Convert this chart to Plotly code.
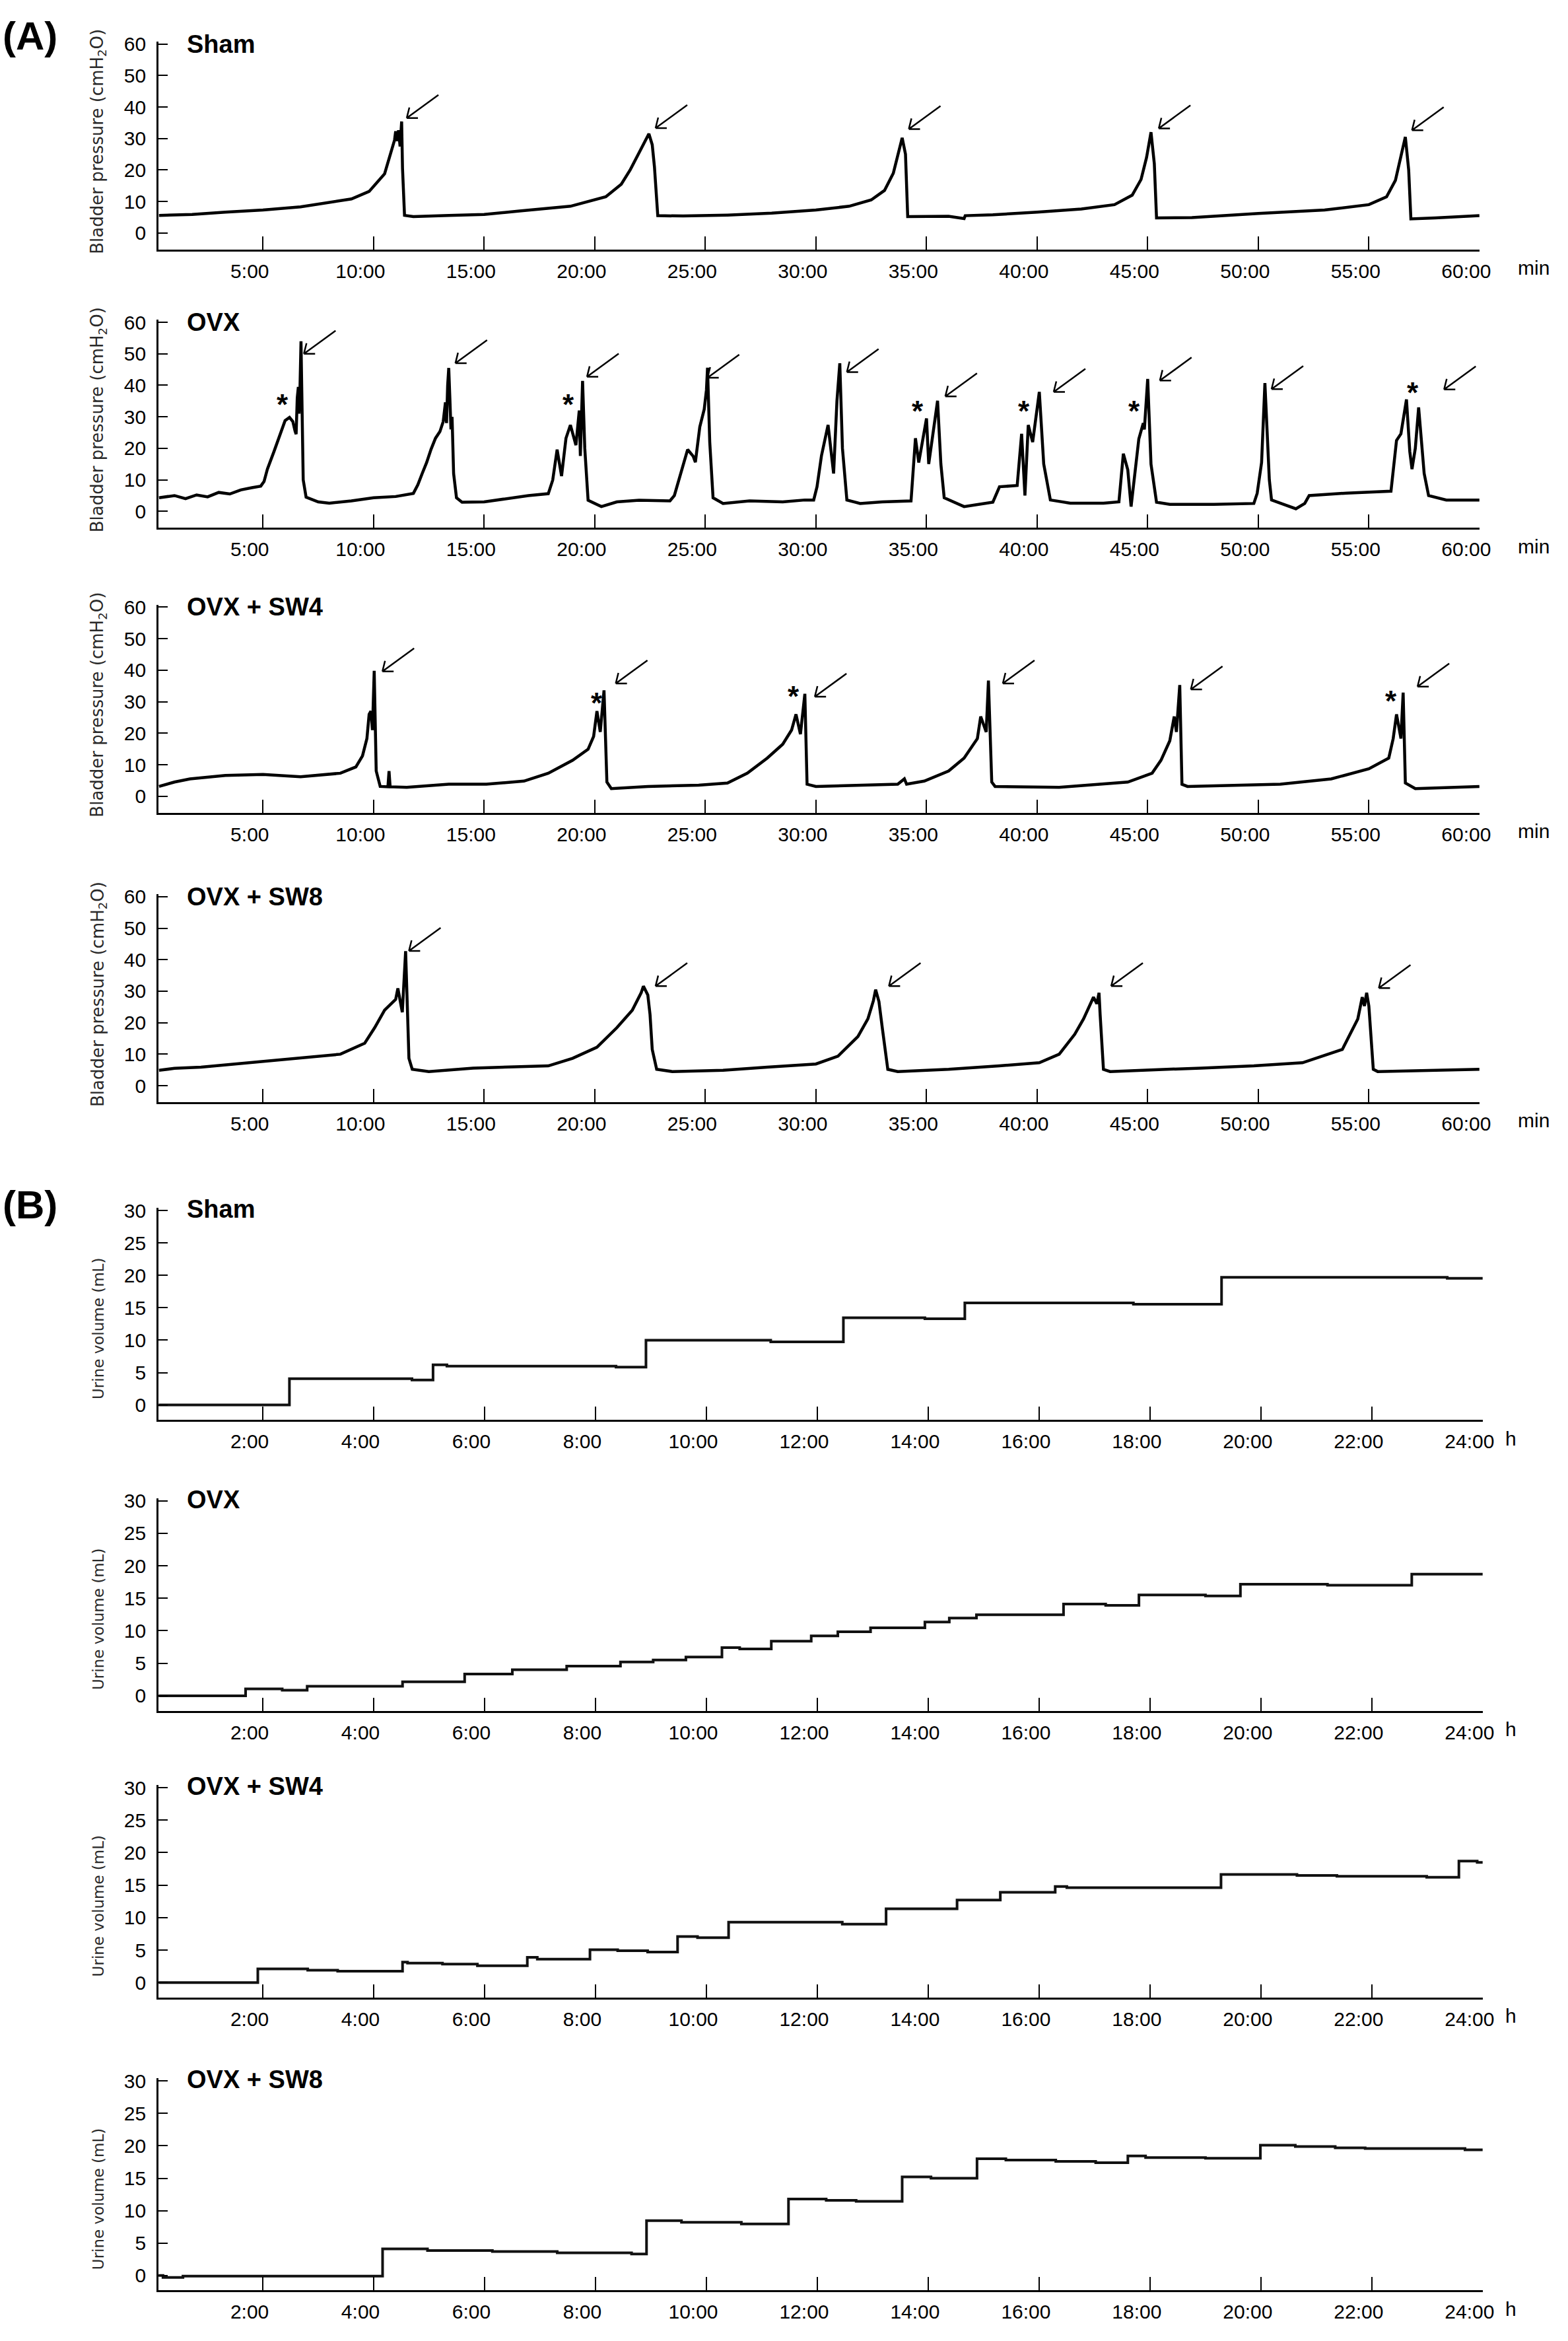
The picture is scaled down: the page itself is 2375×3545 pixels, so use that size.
import plotly.graph_objects as go

W, H = 2375, 3545

# ---------------- Panel A: bladder pressure traces (time in min, pressure in cmH2O) ----------------
sham_t = [0.3, 1.8, 3.3, 5.0, 6.7, 7.8, 9.0, 9.8, 10.15, 10.5, 10.7, 10.8, 10.95, 11.0, 11.07, 11.13, 11.2, 11.27, 11.31, 11.4,
          11.8, 13.4, 15.0, 16.6, 18.9, 20.5, 21.2, 21.6, 22.0, 22.25, 22.45, 22.6, 22.7, 22.85,
          24.0, 26.0, 28.0, 30.0, 31.5, 32.5, 33.1, 33.5, 33.75, 33.9, 34.05, 34.15,
          36.0, 36.7, 36.75, 38.0, 40.0, 42.0, 43.5, 44.3, 44.7, 44.95, 45.15, 45.3, 45.4,
          47.0, 50.0, 53.0, 55.0, 55.8, 56.2, 56.45, 56.65, 56.8, 56.9, 58.0, 60.0]
sham_p = [5.6, 5.9, 6.6, 7.3, 8.3, 9.4, 10.8, 13.2, 16.0, 18.8, 23.6, 25.7, 29.5, 32.3, 29.2, 32.6, 27.5, 35.4, 20.5, 5.6,
          5.2, 5.6, 5.9, 7.0, 8.5, 11.5, 15.5, 20.0, 25.5, 28.5, 31.5, 28.0, 21.0, 5.5,
          5.4, 5.7, 6.3, 7.3, 8.5, 10.5, 13.5, 19.0, 25.5, 30.2, 25.0, 5.2,
          5.3, 4.6, 5.5, 5.8, 6.6, 7.6, 9.0, 12.0, 17.0, 24.0, 32.0, 22.0, 4.8,
          4.9, 6.2, 7.3, 9.0, 11.5, 16.7, 25.0, 30.5, 20.0, 4.5, 4.8, 5.5]

ovx_t = [0.3, 1.0, 1.5, 2.0, 2.5, 3.0, 3.5, 4.0, 4.5, 4.9, 5.05, 5.2, 5.5, 5.8, 6.0, 6.2, 6.35, 6.45, 6.5, 6.55, 6.6,
         6.63, 6.67, 6.72, 6.77, 6.82, 6.95, 7.5, 8.0, 9.0, 10.0, 11.0, 11.8, 12.0, 12.2, 12.4, 12.6, 12.8, 13.0,
         13.15, 13.25, 13.3, 13.35, 13.4, 13.45, 13.5, 13.55, 13.62, 13.75, 14.0, 15.0, 16.0, 17.0, 17.9, 18.1,
         18.3, 18.5, 18.7, 18.9, 19.15, 19.3, 19.35, 19.45, 19.55, 19.7, 20.3, 21.0, 22.0, 23.4, 23.6, 24.2,
         24.45, 24.55, 24.75, 24.95, 25.05, 25.1, 25.2, 25.35, 25.8, 27.0, 28.5, 29.5, 29.9, 30.05, 30.25, 30.55,
         30.8, 30.95, 31.08, 31.2, 31.4, 32.0, 33.0, 34.3, 34.5, 34.65, 35.0, 35.1, 35.5, 35.65, 35.8, 36.7,
         38.0, 38.3, 39.1, 39.3, 39.45, 39.6, 39.8, 40.1, 40.3, 40.6, 41.5, 43.0, 43.7, 43.9, 44.1, 44.25,
         44.6, 44.8, 44.85, 45.0, 45.15, 45.4, 46.0, 48.0, 49.8, 49.95, 50.15, 50.3, 50.5, 50.6, 51.7, 52.1,
         52.3, 54.0, 56.0, 56.25, 56.45, 56.7, 56.85, 56.95, 57.1, 57.25, 57.5, 57.7, 58.5, 60.0]
ovx_p = [4.3, 5.0, 4.0, 5.2, 4.6, 6.0, 5.5, 6.8, 7.5, 8.0, 9.5, 13.4, 19.0, 24.6, 28.8, 29.8, 28.5, 25.5, 24.5, 36.0, 39.5,
         31.0, 38.0, 54.0, 30.0, 10.0, 4.5, 3.0, 2.6, 3.3, 4.3, 4.7, 5.7, 8.4, 12.0, 15.5, 19.7, 23.2, 25.3,
         28.5, 34.6, 28.0, 40.0, 45.5, 36.0, 26.0, 30.0, 12.0, 4.3, 2.9, 3.0, 4.0, 5.0, 5.6, 9.9,
         19.6, 11.2, 23.2, 27.4, 21.0, 32.0, 17.6, 41.4, 20.0, 3.5, 1.5, 3.0, 3.5, 3.3, 5.0, 19.6,
         17.5, 15.6, 26.8, 32.4, 38.5, 45.6, 22.0, 4.3, 2.5, 3.3, 3.0, 3.6, 3.6, 7.8, 17.6, 27.4,
         12.0, 35.0, 47.0, 20.0, 3.6, 2.5, 3.0, 3.3, 23.2, 15.5, 29.5, 15.0, 35.1, 15.0, 4.3, 1.5,
         2.9, 7.8, 8.2, 24.6, 5.0, 27.4, 22.0, 37.9, 15.0, 3.6, 2.6, 2.6, 3.0, 18.3, 13.2, 1.5,
         23.0, 28.0, 26.0, 42.0, 15.0, 2.9, 2.2, 2.2, 2.5, 5.7, 15.5, 40.7, 10.0, 3.6, 0.8, 2.5,
         5.0, 5.8, 6.4, 22.5, 24.6, 35.5, 19.0, 13.4, 20.0, 33.0, 12.0, 5.0, 3.6, 3.6]

sw4_t = [0.3, 1.0, 1.7, 3.3, 5.0, 6.7, 8.5, 9.2, 9.5, 9.7, 9.8, 9.88, 9.95, 10.03, 10.12, 10.3, 10.65, 10.7, 10.75,
         11.5, 13.4, 15.1, 16.8, 17.9, 19.0, 19.7, 19.95, 20.1, 20.25, 20.42, 20.55, 20.75, 22.4, 24.7, 26.0,
         26.9, 27.8, 28.5, 28.9, 29.1, 29.3, 29.5, 29.6, 30.0, 33.7, 34.0, 34.1, 34.9, 36.0, 36.7, 37.3, 37.45,
         37.7, 37.8, 37.95, 38.1, 41.0, 44.1, 45.2, 45.6, 46.0, 46.2, 46.3, 46.45, 46.55, 46.8, 51.0, 53.3, 55.0,
         55.9, 56.1, 56.25, 56.45, 56.55, 56.65, 57.1, 60.0]
sw4_p = [3.1, 4.5, 5.5, 6.6, 6.9, 6.2, 7.3, 9.3, 12.8, 18.3, 26.0, 27.0, 21.0, 39.8, 8.0, 3.1, 3.0, 8.0, 3.0,
         2.8, 3.8, 3.8, 4.8, 7.3, 11.4, 14.9, 19.0, 27.0, 20.4, 33.6, 4.5, 2.4, 3.1, 3.5, 4.2,
         7.3, 12.1, 16.5, 21.0, 26.0, 19.7, 32.5, 3.8, 3.1, 3.8, 5.5, 3.8, 4.8, 8.0, 12.1, 18.3, 25.3,
         20.4, 36.7, 4.5, 3.1, 2.8, 4.5, 7.3, 11.4, 17.6, 25.3, 20.4, 35.3, 3.8, 3.1, 3.8, 5.5, 8.7,
         12.1, 18.3, 26.0, 18.3, 32.9, 4.2, 2.4, 3.1]

sw8_t = [0.3, 1.0, 2.2, 4.4, 6.7, 8.5, 9.6, 10.05, 10.5, 11.0, 11.1, 11.2, 11.3, 11.45, 11.5, 11.6, 11.75, 12.5,
         14.5, 17.9, 19.0, 20.1, 21.0, 21.7, 22.1, 22.2, 22.4, 22.5, 22.6, 22.8, 23.5, 25.8, 27.8, 30.0, 31.0,
         31.9, 32.35, 32.6, 32.7, 32.85, 33.0, 33.25, 33.7, 36.0, 38.3, 40.1, 41.0, 41.7, 42.1, 42.55, 42.7,
         42.8, 42.85, 43.0, 43.3, 45.1, 47.4, 49.8, 52.0, 53.8, 54.3, 54.5, 54.7, 54.8, 54.9, 55.0, 55.2,
         55.4, 60.0]
sw8_p = [4.9, 5.5, 5.9, 7.3, 8.7, 10.0, 13.5, 18.4, 24.0, 27.4, 30.9, 27.0, 23.3, 42.7, 30.2, 8.7, 5.2, 4.5,
         5.6, 6.3, 8.7, 12.2, 18.4, 24.0, 29.5, 31.6, 28.8, 22.6, 11.5, 5.2, 4.5, 4.9, 5.9, 6.9, 9.4,
         15.6, 21.2, 27.0, 30.5, 26.7, 18.4, 5.2, 4.5, 5.2, 6.3, 7.3, 10.0, 16.3, 21.2, 28.1, 26.0,
         29.5, 22.6, 5.2, 4.5, 4.9, 5.6, 6.3, 7.3, 11.5, 18.4, 21.2, 28.1, 25.3, 29.5, 25.3, 5.2,
         4.5, 5.2]

# voiding arrows (arrow tip position: time, pressure) and asterisks (non-voiding contractions)
sham_arrows = [(11.5, 36.5), (22.75, 33.3), (34.2, 33.0), (45.5, 33.2), (56.95, 32.6)]
ovx_arrows = [(6.85, 50.0), (13.7, 47.0), (19.65, 42.7), (25.1, 42.4), (31.4, 44.2), (35.85, 36.5),
              (40.75, 37.9), (45.55, 41.5), (50.6, 38.8), (58.4, 38.7)]
sw4_arrows = [(10.4, 39.6), (20.95, 35.8), (29.95, 31.6), (38.45, 35.8), (46.95, 33.9), (57.2, 34.8)]
sw8_arrows = [(11.6, 42.8), (22.75, 31.6), (33.3, 31.6), (43.35, 31.6), (55.45, 31.0)]
ovx_stars = [(5.9, 35.8), (18.8, 35.8), (34.6, 33.7), (39.4, 33.7), (44.4, 33.7), (57.0, 39.6)]
sw4_stars = [(20.1, 31.5), (29.0, 33.6), (56.0, 32.2)]

a_xticks = [5, 10, 15, 20, 25, 30, 35, 40, 45, 50, 55, 60]
a_xticktext = ["5:00", "10:00", "15:00", "20:00", "25:00", "30:00", "35:00", "40:00", "45:00", "50:00", "55:00", "60:00"]
a_yticks = [0, 10, 20, 30, 40, 50, 60]

# ---------------- Panel B: cumulative urine volume (time in h, volume in mL) ----------------
shamB_t = [0.12, 2.48, 4.69, 5.07, 5.32, 8.37, 8.91, 11.16, 12.47, 13.94, 14.66, 17.7, 19.29, 23.36, 24.0]
shamB_v = [0, 4.05, 3.85, 6.2, 6.0, 5.85, 10.0, 9.75, 13.45, 13.3, 15.75, 15.55, 19.7, 19.55, 19.55]

ovxB_t = [0.12, 1.69, 2.35, 2.8, 4.52, 5.64, 6.5, 7.48, 8.45, 9.04, 9.63, 10.28, 10.6, 11.17, 11.89, 12.37, 12.96,
          13.94, 14.38, 14.87, 16.44, 17.2, 17.8, 19.0, 19.63, 21.2, 22.72, 24.0]
ovxB_v = [0, 1.05, 0.85, 1.45, 2.15, 3.35, 4.0, 4.55, 5.2, 5.5, 5.95, 7.4, 7.2, 8.4, 9.2, 9.85, 10.45,
          11.35, 11.95, 12.45, 14.1, 13.9, 15.5, 15.35, 17.15, 17.0, 18.7, 18.7]

sw4B_t = [0.12, 1.91, 2.81, 3.35, 4.52, 4.61, 5.24, 5.87, 6.77, 6.95, 7.9, 8.4, 8.94, 9.48, 9.84, 10.4, 12.45,
          13.24, 14.52, 15.3, 16.29, 16.5, 19.28, 20.65, 21.37, 22.99, 23.57, 23.9, 24.0]
sw4B_v = [0, 2.1, 1.9, 1.75, 3.15, 3.0, 2.85, 2.6, 3.9, 3.6, 5.05, 4.9, 4.7, 7.1, 6.9, 9.3, 9.0,
          11.35, 12.7, 13.9, 14.8, 14.6, 16.65, 16.5, 16.35, 16.2, 18.7, 18.5, 18.5]

sw8B_t = [0.11, 0.2, 0.56, 4.16, 4.97, 6.14, 7.31, 8.65, 8.92, 9.55, 10.63, 11.48, 12.16, 12.7, 13.53, 14.05,
          14.88, 15.4, 16.3, 17.02, 17.6, 17.92, 19.0, 19.99, 20.62, 21.34, 21.88, 23.68, 24.0]
sw8B_v = [0, -0.3, -0.1, 4.1, 3.85, 3.7, 3.5, 3.3, 8.45, 8.2, 7.95, 11.8, 11.6, 11.45, 15.2, 15.0,
          18.0, 17.8, 17.6, 17.4, 18.45, 18.2, 18.1, 20.1, 19.9, 19.7, 19.6, 19.4, 19.4]

b_xticks = [2, 4, 6, 8, 10, 12, 14, 16, 18, 20, 22, 24]
b_xticktext = ["2:00", "4:00", "6:00", "8:00", "10:00", "12:00", "14:00", "16:00", "18:00", "20:00", "22:00", "24:00"]
b_yticks = [0, 5, 10, 15, 20, 25, 30]

groups = ["Sham", "OVX", "OVX + SW4", "OVX + SW8"]

# ---------------- layout geometry (pixels) ----------------
X0 = 242
A_X1, B_X1 = 2258, 2263
A_rows = [(50, 366), (473, 789), (906, 1222), (1346, 1662)]
B_rows = [(1823, 2145), (2264, 2587), (2700, 3023), (3146, 3468)]

TICKFONT = dict(family="Liberation Sans, Arial, sans-serif", size=30, color="black")
TITLEFONT_A = dict(family="DejaVu Sans, Verdana, sans-serif", size=26, color="#2a2a2a")
TITLEFONT_B = dict(family="DejaVu Sans, Verdana, sans-serif", size=23, color="#2a2a2a")

fig = go.Figure()
layout = dict(width=W, height=H, autosize=False, margin=dict(l=0, r=0, t=0, b=0),
              paper_bgcolor="white", plot_bgcolor="white", showlegend=False)
annotations = []
shapes = []

def ydom(top, bot):
    return [1 - bot / H, 1 - top / H]

A_data = [(sham_t, sham_p, sham_arrows, []), (ovx_t, ovx_p, ovx_arrows, ovx_stars),
          (sw4_t, sw4_p, sw4_arrows, sw4_stars), (sw8_t, sw8_p, sw8_arrows, [])]
B_data = [(shamB_t, shamB_v), (ovxB_t, ovxB_v), (sw4B_t, sw4B_v), (sw8B_t, sw8B_v)]

ARROW_PATH = "M 0,0 L 48,35 M 0,0 L 17,0 M 0,0 L 4,16"

for i in range(8):
    n = i + 1
    xa = "x" if n == 1 else f"x{n}"
    ya = "y" if n == 1 else f"y{n}"
    xkey = "xaxis" if n == 1 else f"xaxis{n}"
    ykey = "yaxis" if n == 1 else f"yaxis{n}"
    isA = i < 4
    k = i if isA else i - 4
    top, bot = (A_rows if isA else B_rows)[k]
    x1 = A_X1 if isA else B_X1
    if isA:
        t, p, arrows, stars = A_data[k]
        fig.add_trace(go.Scatter(x=t, y=p, mode="lines", line=dict(color="black", width=4.5),
                                 xaxis=xa, yaxis=ya, hoverinfo="skip"))
        xr, yr = [0.28, 60], [-5.2, 60.8]
        xt, xtt, yt = a_xticks, a_xticktext, a_yticks
        unit = "min"
        ytitle = "Bladder pressure (cmH<sub>2</sub>O)"
        tfont = TITLEFONT_A
        title_y = 60
        unit_shift = 56
        ytitle_pos = 0.52
        for (ax_, ay_) in arrows:
            shapes.append(dict(type="path", xref=xa, yref=ya, xsizemode="pixel", ysizemode="pixel",
                               xanchor=ax_, yanchor=ay_, path=ARROW_PATH,
                               line=dict(color="black", width=2.5)))
        for (sx, sy) in stars:
            annotations.append(dict(x=sx, y=sy, xref=xa, yref=ya, text="<b>*</b>", showarrow=False,
                                    font=dict(family="Liberation Sans, Arial", size=44, color="black"),
                                    xanchor="center", yanchor="middle", yshift=-9))
    else:
        t, v = B_data[k]
        fig.add_trace(go.Scatter(x=t, y=v, mode="lines", line=dict(color="#111111", width=4, shape="hv"),
                                 xaxis=xa, yaxis=ya, hoverinfo="skip"))
        xr, yr = [0.12, 24], [-2.3, 30.4]
        xt, xtt, yt = b_xticks, b_xticktext, b_yticks
        unit = "h"
        ytitle = "Urine volume (mL)"
        tfont = TITLEFONT_B
        title_y = 30.2
        unit_shift = 32
        ytitle_pos = 0.43
    layout[xkey] = dict(domain=[X0 / W, x1 / W], range=xr, anchor=ya, showgrid=False, zeroline=False,
                        showline=True, linecolor="black", linewidth=3, ticks="inside", ticklen=20,
                        tickwidth=2, tickcolor="black", tickvals=xt, ticktext=xtt, tickfont=TICKFONT,
                        ticklabelshift=-20, ticklabelstandoff=4, fixedrange=True)
    layout[ykey] = dict(domain=ydom(top, bot), range=yr, anchor=xa, showgrid=False, zeroline=False,
                        showline=True, linecolor="black", linewidth=3, ticks="inside", ticklen=14,
                        tickwidth=2, tickcolor="black", tickvals=yt, tickfont=TICKFONT,
                        ticklabelstandoff=10, fixedrange=True)
    # unit label after last tick
    annotations.append(dict(x=xr[1], y=0, xref=xa, yref=f"{ya} domain", text=unit, showarrow=False,
                            font=TICKFONT, xanchor="left", yanchor="middle", xshift=unit_shift, yshift=-28))
    # group title
    annotations.append(dict(x=(283 - X0) / (x1 - X0), y=title_y, xref=f"{xa} domain", yref=ya,
                            text=f"<b>{groups[k]}</b>", showarrow=False,
                            font=dict(family="Liberation Sans, Arial", size=38, color="black"),
                            xanchor="left", yanchor="middle"))
    # y-axis title
    annotations.append(dict(x=150 / W, y=ytitle_pos, xref="paper", yref=f"{ya} domain", text=ytitle,
                            showarrow=False, textangle=-90, font=tfont,
                            xanchor="center", yanchor="middle"))

annotations.append(dict(x=2 / W, y=1 - 42 / H, xref="paper", yref="paper", text="<b>(A)</b>", showarrow=False,
                        font=dict(family="Liberation Sans, Arial", size=60, color="black"),
                        xanchor="left", yanchor="middle"))
annotations.append(dict(x=2 / W, y=1 - 1818 / H, xref="paper", yref="paper", text="<b>(B)</b>", showarrow=False,
                        font=dict(family="Liberation Sans, Arial", size=60, color="black"),
                        xanchor="left", yanchor="middle"))

layout["annotations"] = annotations
layout["shapes"] = shapes
fig.update_layout(**layout)
fig.write_html("out.html", config={"displayModeBar": False},
               post_script="document.body.style.margin='0';")
